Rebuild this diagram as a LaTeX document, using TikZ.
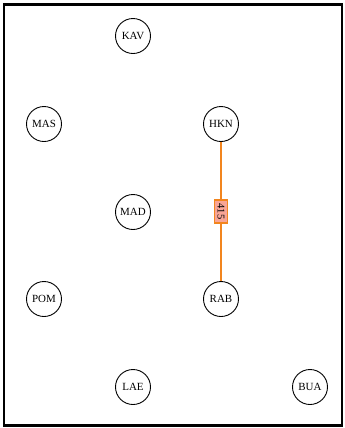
\documentclass[tikz,border=0pt]{standalone}
\usepackage{fontspec}
\setmainfont{Liberation Serif}
\usepackage{tikz}
\definecolor{edgeor}{RGB}{242,133,30}
\definecolor{labfill}{RGB}{248,165,150}
\begin{document}
\begin{tikzpicture}[x=1bp,y=-1bp,
  city/.style={circle,draw=black,line width=0.9bp,minimum size=35bp,inner sep=0pt,font=\fontsize{11}{13}\selectfont},
  route/.style={draw=edgeor,line width=2.4bp},
  weight/.style={draw=edgeor,fill=labfill,line width=1.8bp,rotate=-90,inner xsep=3.5bp,inner ysep=3bp,font=\fontsize{10.5}{12}\selectfont}]
\useasboundingbox (0,0) rectangle (345,428);
\draw[line width=2.4bp] (4,4.5) rectangle (342,425.5);
\node[city] (KAV) at (133,36) {KAV};
\node[city] (MAS) at (44,124) {MAS};
\node[city] (HKN) at (221,124) {HKN};
\node[city] (MAD) at (133,212) {MAD};
\node[city] (POM) at (44,299) {POM};
\node[city] (RAB) at (221,299) {RAB};
\node[city] (LAE) at (133,387) {LAE};
\node[city] (BUA) at (310,387) {BUA};
\draw[route] (HKN) -- node[weight] {415} (RAB);
\end{tikzpicture}
\end{document}
